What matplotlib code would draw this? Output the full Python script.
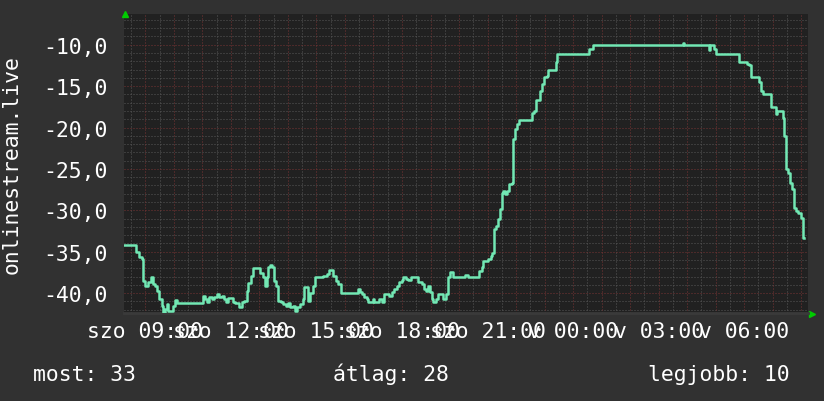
import numpy as np
import matplotlib.pyplot as plt

# time in hours since Saturday 00:00, value = position (negated)
hours = [8.25, 8.674, 8.791, 8.884, 8.931, 8.990, 9.106, 9.188, 9.258, 9.340,
         9.399, 9.492, 9.574, 9.632, 9.691, 9.749, 9.808, 9.960, 10.042, 10.100,
         11.012, 11.093, 11.175, 11.245, 11.327, 11.409, 11.502, 11.596, 11.678, 11.760,
         11.830, 11.912, 12.063, 12.145, 12.297, 12.379, 12.461, 12.554, 12.613, 12.695,
         12.765, 13.022, 13.115, 13.197, 13.256, 13.314, 13.372, 13.443, 13.513, 13.583,
         13.665, 13.747, 13.840, 13.933, 14.015, 14.074, 14.167, 14.249, 14.331, 14.424,
         14.518, 14.565, 14.658, 14.717, 14.775, 14.869, 14.950, 15.243, 15.360, 15.453,
         15.593, 15.687, 15.768, 15.850, 16.470, 16.528, 16.587, 16.668, 16.762, 16.820,
         16.972, 17.019, 17.206, 17.288, 17.370, 17.557, 17.639, 17.720, 17.814, 17.907,
         17.989, 18.047, 18.141, 18.223, 18.305, 18.573, 18.690, 18.772, 18.842, 18.924,
         18.982, 19.041, 19.100, 19.193, 19.275, 19.450, 19.544, 19.625, 19.684, 19.777,
         20.210, 20.327, 20.713, 20.794, 20.853, 21.028, 21.110, 21.168, 21.227, 21.297,
         21.367, 21.437, 21.495, 21.554, 21.612, 21.671, 21.764, 21.846, 21.904, 21.963,
         22.021, 22.115, 22.547, 22.629, 22.687, 22.839, 22.921, 22.980, 23.073, 23.132,
         23.400, 23.447, 24.569, 24.686, 27.842, 27.889, 28.754, 28.800, 28.940, 29.011,
         29.829, 30.109, 30.179, 30.238, 30.530, 30.577, 30.670, 30.927, 31.103, 31.161,
         31.348, 31.395, 31.465, 31.547, 31.605, 31.687, 31.746, 31.816, 31.898, 31.979,
         32.049, 32.073, 32.108]
values = [-34.19, -35.08, -35.69, -35.89, -38.51, -39.11, -38.71, -38.11, -38.91, -39.11,
          -39.72, -40.73, -41.53, -42.46, -41.94, -41.33, -42.14, -41.53, -40.85, -41.21,
          -40.32, -40.73, -41.13, -40.44, -40.73, -40.52, -40.12, -40.52, -40.32, -40.73,
          -41.13, -40.61, -41.13, -41.25, -41.73, -41.13, -40.93, -39.80, -38.83, -37.90,
          -37.02, -37.62, -38.02, -39.11, -38.11, -36.90, -36.61, -36.90, -38.51, -39.11,
          -40.93, -41.13, -41.33, -41.53, -41.25, -41.65, -41.53, -42.14, -41.73, -41.33,
          -40.73, -39.32, -39.23, -40.93, -40.04, -39.11, -38.11, -37.90, -37.70, -37.22,
          -37.90, -38.51, -38.91, -40.04, -39.52, -39.92, -40.12, -40.52, -40.73, -41.13,
          -40.73, -41.13, -40.73, -41.13, -40.12, -40.32, -39.92, -39.52, -39.11, -38.71,
          -38.43, -38.11, -38.31, -38.43, -38.11, -38.71, -38.91, -39.52, -39.80, -39.11,
          -39.92, -40.73, -41.13, -40.73, -40.12, -40.73, -40.12, -38.11, -37.50, -38.11,
          -37.78, -38.11, -37.30, -36.90, -36.09, -35.89, -35.48, -35.12, -32.30, -31.90,
          -31.09, -29.88, -27.86, -27.66, -28.06, -27.66, -26.86, -26.65, -21.41, -20.20,
          -19.60, -19.07, -18.19, -17.98, -16.65, -15.56, -14.76, -13.95, -13.75, -13.02,
          -12.14, -11.09, -10.52, -10.00, -9.78, -10.00, -10.61, -10.00, -10.52, -11.09,
          -12.06, -12.34, -12.46, -13.95, -14.56, -15.56, -15.97, -17.58, -18.39, -18.06,
          -18.79, -21.01, -25.04, -25.44, -26.65, -27.46, -29.68, -30.08, -30.28, -30.89,
          -31.49, -33.31, -33.31]

tick_hours = [9, 12, 15, 18, 21, 24, 27, 30]
tick_labels = ['szo 09:00', 'szo 12:00', 'szo 15:00', 'szo 18:00', 'szo 21:00',
               'v 00:00', 'v 03:00', 'v 06:00']
ytick_vals = [-10, -15, -20, -25, -30, -35, -40]
ytick_labels = ['-10,0', '-15,0', '-20,0', '-25,0', '-30,0', '-35,0', '-40,0']
legend_texts = ['most: 33', 'átlag: 28', 'legjobb: 10']
legend_x = [33, 333, 648]

plt.rcParams['font.family'] = 'DejaVu Sans Mono'
fs = 15.4
W, H = 824, 402
fig = plt.figure(figsize=(W / 100, H / 100), dpi=100, facecolor='#313131')
ax = fig.add_axes([124 / W, 88 / H, 684 / W, 299 / H], facecolor='#212121')

xmin, xmax = 8.253, 32.236
ymin, ymax = -42.40, -6.29
ax.set_xlim(xmin, xmax)
ax.set_ylim(ymin, ymax)

gray = '#575757'
red = '#773434'
dots = (0, (1, 2))
ax.vlines(np.arange(8.5, xmax, 1.0), ymin, ymax, colors=gray, lw=0.72, linestyles=dots, zorder=1)
ax.hlines([y for y in range(-42, -6) if y % 5], xmin, xmax, colors=gray, lw=0.72, linestyles=dots, zorder=1)
ax.vlines(np.arange(9, xmax, 1.0), ymin, ymax, colors=red, lw=0.72, linestyles=dots, zorder=1)
ax.hlines(range(-40, -6, 5), xmin, xmax, colors=red, lw=0.72, linestyles=dots, zorder=1)

ax.step(hours, values, where='post', color='#72e8b4', lw=1.8, zorder=3)

ax.set_xticks(tick_hours, tick_labels)
ax.set_yticks(ytick_vals, ytick_labels)
ax.tick_params(axis='both', length=0, colors='white', labelsize=fs)
ax.tick_params(axis='x', pad=6)
ax.tick_params(axis='y', pad=12)
for s in ['top', 'left', 'right']:
    ax.spines[s].set_visible(False)
ax.spines['bottom'].set_color('#3a3a3a')
ax.spines['bottom'].set_linewidth(2)

# axis arrows
ax.plot([0.0015], [1.0], marker='^', ms=5, color='#00cc00', transform=ax.transAxes, clip_on=False)
ax.plot([1.006], [-0.005], marker='>', ms=5, color='#00cc00', transform=ax.transAxes, clip_on=False)

fig.text(12 / W, 1 - 165 / H, 'onlinestream.live', rotation=90, ha='center', va='center',
         color='white', fontsize=fs)
for txt, x in zip(legend_texts, legend_x):
    fig.text(x / W, 1 - 381 / H, txt, ha='left', va='baseline', color='white', fontsize=fs)

fig.savefig('out.png', dpi=100, facecolor=fig.get_facecolor())
